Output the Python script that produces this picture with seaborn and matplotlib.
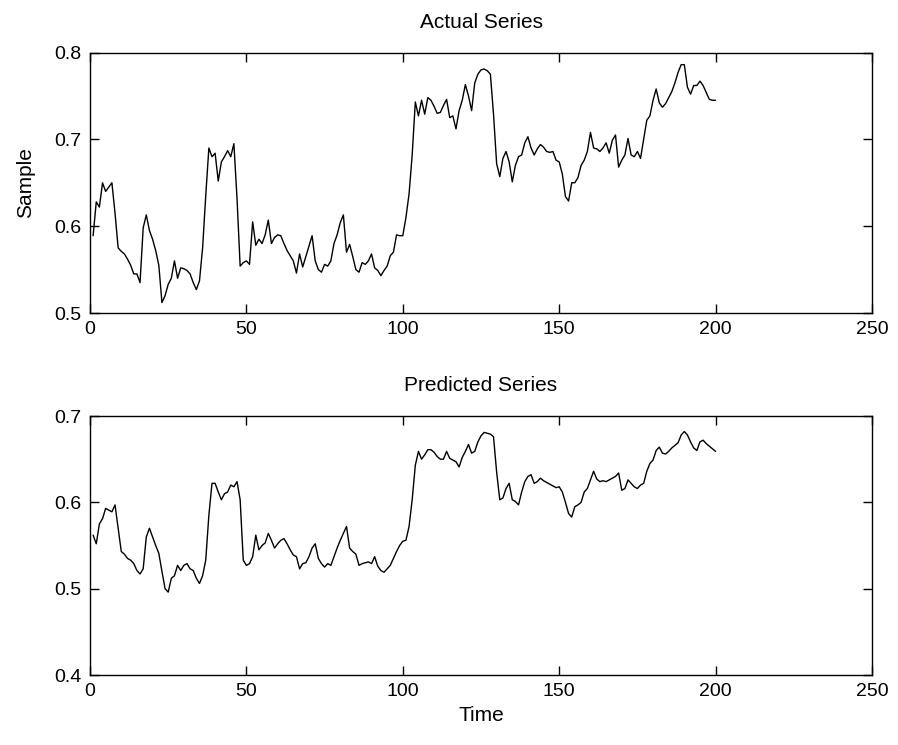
import numpy as np
import pandas as pd
import matplotlib
matplotlib.use("Agg")
import matplotlib.pyplot as plt
import seaborn as sns

time_idx = list(range(1, 201))

actual = [
    0.589, 0.628, 0.622, 0.650, 0.640, 0.645, 0.650, 0.615, 0.575, 0.571,
    0.568, 0.562, 0.555, 0.545, 0.545, 0.535, 0.598, 0.613, 0.595, 0.585,
    0.572, 0.555, 0.512, 0.520, 0.533, 0.540, 0.560, 0.540, 0.552, 0.551,
    0.549, 0.545, 0.535, 0.527, 0.537, 0.575, 0.635, 0.690, 0.680, 0.684,
    0.652, 0.674, 0.680, 0.687, 0.680, 0.695, 0.632, 0.554, 0.558, 0.560,
    0.556, 0.605, 0.578, 0.585, 0.580, 0.590, 0.607, 0.580, 0.587, 0.590,
    0.589, 0.580, 0.572, 0.566, 0.560, 0.546, 0.568, 0.553, 0.565, 0.577,
    0.589, 0.560, 0.550, 0.547, 0.556, 0.554, 0.560, 0.580, 0.590, 0.604,
    0.613, 0.570, 0.579, 0.565, 0.550, 0.547, 0.558, 0.556, 0.560, 0.568,
    0.552, 0.549, 0.543, 0.549, 0.554, 0.566, 0.570, 0.590, 0.589, 0.589,
    0.610, 0.637, 0.682, 0.743, 0.727, 0.745, 0.729, 0.748, 0.745, 0.738,
    0.730, 0.731, 0.739, 0.746, 0.725, 0.727, 0.712, 0.733, 0.745, 0.763,
    0.750, 0.733, 0.765, 0.775, 0.780, 0.781, 0.779, 0.775, 0.729, 0.672,
    0.657, 0.678, 0.686, 0.674, 0.651, 0.670, 0.680, 0.682, 0.696, 0.703,
    0.690, 0.682, 0.689, 0.694, 0.691, 0.686, 0.685, 0.686, 0.676, 0.674,
    0.660, 0.634, 0.629, 0.650, 0.650, 0.656, 0.670, 0.676, 0.686, 0.708,
    0.690, 0.689, 0.686, 0.690, 0.696, 0.684, 0.699, 0.705, 0.668, 0.676,
    0.682, 0.701, 0.682, 0.680, 0.686, 0.678, 0.700, 0.722, 0.727, 0.745,
    0.758, 0.742, 0.737, 0.741, 0.748, 0.755, 0.765, 0.777, 0.786, 0.786,
    0.760, 0.752, 0.762, 0.762, 0.767, 0.762, 0.754, 0.746, 0.745, 0.745,
]

predicted = [
    0.562, 0.552, 0.575, 0.581, 0.593, 0.591, 0.589, 0.597, 0.570, 0.543,
    0.540, 0.535, 0.533, 0.529, 0.521, 0.517, 0.523, 0.560, 0.570, 0.560,
    0.550, 0.541, 0.520, 0.500, 0.496, 0.512, 0.515, 0.527, 0.521, 0.527,
    0.529, 0.523, 0.521, 0.512, 0.506, 0.515, 0.533, 0.585, 0.622, 0.622,
    0.612, 0.603, 0.610, 0.612, 0.620, 0.618, 0.624, 0.603, 0.533, 0.527,
    0.529, 0.537, 0.562, 0.545, 0.550, 0.553, 0.564, 0.556, 0.547, 0.552,
    0.556, 0.558, 0.552, 0.545, 0.539, 0.537, 0.523, 0.529, 0.530, 0.537,
    0.547, 0.552, 0.535, 0.529, 0.525, 0.529, 0.527, 0.537, 0.547, 0.556,
    0.564, 0.572, 0.547, 0.543, 0.540, 0.527, 0.529, 0.530, 0.531, 0.529,
    0.537, 0.526, 0.521, 0.519, 0.523, 0.527, 0.535, 0.543, 0.550, 0.555,
    0.556, 0.572, 0.603, 0.643, 0.659, 0.650, 0.655, 0.661, 0.661, 0.658,
    0.653, 0.650, 0.650, 0.659, 0.651, 0.649, 0.647, 0.641, 0.652, 0.659,
    0.667, 0.657, 0.659, 0.670, 0.677, 0.681, 0.680, 0.679, 0.676, 0.635,
    0.603, 0.605, 0.616, 0.622, 0.603, 0.601, 0.597, 0.612, 0.624, 0.630,
    0.632, 0.622, 0.624, 0.628, 0.625, 0.623, 0.621, 0.619, 0.617, 0.618,
    0.612, 0.600, 0.587, 0.583, 0.595, 0.597, 0.600, 0.612, 0.616, 0.626,
    0.636, 0.627, 0.624, 0.625, 0.624, 0.626, 0.628, 0.630, 0.634, 0.614,
    0.616, 0.626, 0.622, 0.618, 0.616, 0.620, 0.622, 0.636, 0.645, 0.649,
    0.660, 0.664, 0.657, 0.656, 0.659, 0.663, 0.666, 0.669, 0.678, 0.682,
    0.678, 0.670, 0.663, 0.660, 0.670, 0.672, 0.668, 0.665, 0.662, 0.659,
]

x_ticks = [0, 50, 100, 150, 200, 250]
top_yticks = [0.5, 0.6, 0.7, 0.8]
bot_yticks = [0.4, 0.5, 0.6, 0.7]

sns.set_theme(style="white")
plt.rcParams['font.family'] = ['Liberation Sans', 'DejaVu Sans']

W, H = 898, 745
fig = plt.figure(figsize=(W / 100, H / 100), dpi=100)
left = 90 / W
width = (872 - 90) / W
ax1 = fig.add_axes([left, 1 - 313 / H, width, (313 - 52.5) / H])
ax2 = fig.add_axes([left, 1 - 675 / H, width, (675 - 416) / H])

df = pd.DataFrame({"Time": time_idx, "Actual": actual, "Predicted": predicted})

sns.lineplot(data=df, x="Time", y="Actual", ax=ax1, color="black", linewidth=1.0)
sns.lineplot(data=df, x="Time", y="Predicted", ax=ax2, color="black", linewidth=1.0)

for ax, yt, title in [(ax1, top_yticks, "Actual Series"), (ax2, bot_yticks, "Predicted Series")]:
    ax.set_xlim(0, 250)
    ax.set_ylim(yt[0], yt[-1])
    ax.set_xticks(x_ticks)
    ax.set_xticklabels([str(v) for v in x_ticks])
    ax.set_yticks(yt)
    ax.set_yticklabels([f"{v:.1f}" for v in yt])
    ax.tick_params(direction="in", length=6.5, width=1.0, colors="black",
                   labelsize=14, top=True, right=True, bottom=True, left=True, pad=6)
    for s in ax.spines.values():
        s.set_visible(True)
        s.set_color("black")
        s.set_linewidth(1.0)
    ax.set_title(title, fontsize=15, color="black", pad=18)
    ax.set_xlabel("")
    ax.set_ylabel("")
    ax.grid(False)

ax1.set_ylabel("Sample", fontsize=15, color="black", labelpad=14)
ax2.set_xlabel("Time", fontsize=15, color="black", labelpad=4)

fig.savefig("out.png", dpi=100, facecolor="white")
